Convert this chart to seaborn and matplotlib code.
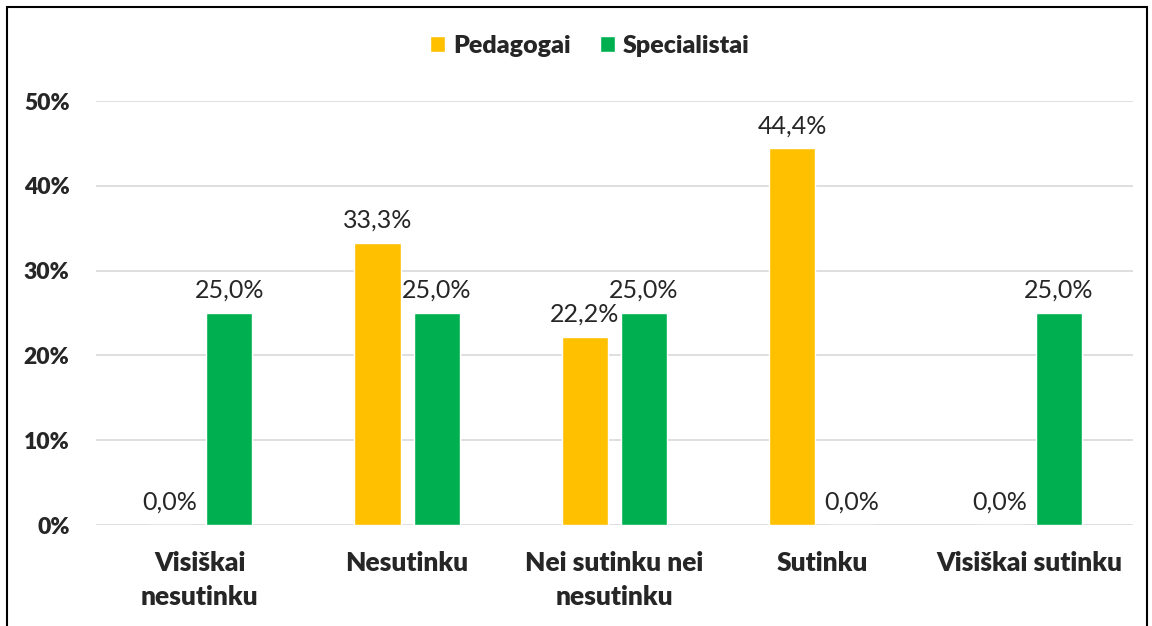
import pandas as pd
import seaborn as sns
from matplotlib import pyplot as plt
from matplotlib.patches import Rectangle

# atsakymu kategorijos ir procentai
kategorijos = ['Visiškai\nnesutinku', 'Nesutinku', 'Nei sutinku nei\nnesutinku', 'Sutinku', 'Visiškai sutinku']
pedagogai = [0.0, 33.3, 22.2, 44.4, 0.0]
specialistai = [25.0, 25.0, 25.0, 0.0, 25.0]
grupes = ['Pedagogai', 'Specialistai']
spalvos = ['#FFC000', '#00B050']

df = pd.DataFrame({
    'kategorija': kategorijos * 2,
    'grupe': [grupes[0]] * len(kategorijos) + [grupes[1]] * len(kategorijos),
    'proc': pedagogai + specialistai,
})

sns.set_style('white')
plt.rcParams['font.family'] = ['Lato', 'DejaVu Sans']

fig = plt.figure(figsize=(11.52, 6.26), dpi=100)
ax = fig.add_axes([96 / 1152, 1 - 525 / 626, (1133 - 96) / 1152, (525 - 101) / 626])

sns.barplot(data=df, x='kategorija', y='proc', hue='grupe', palette=spalvos,
            saturation=1, width=0.57, gap=0.22, ax=ax, legend=True)

ax.set_ylim(0, 50)
ax.set_xlim(-0.5, len(kategorijos) - 0.5)
ax.set_yticks(range(0, 51, 10))
ax.set_yticklabels([f'{t}%' for t in range(0, 51, 10)], fontsize=16.5, fontweight='heavy')
ax.set_xticks(range(len(kategorijos)))
ax.set_xticklabels(kategorijos, fontsize=19, fontweight='heavy', linespacing=1.5)
ax.tick_params(axis='y', length=0, pad=19)
ax.tick_params(axis='x', length=0, pad=19)
ax.set_xlabel('')
ax.set_ylabel('')
ax.yaxis.grid(True, color='#D9D9D9', linewidth=1.2)
ax.set_axisbelow(True)
for s in ax.spines.values():
    s.set_visible(False)

for cont in ax.containers:
    for bar in cont:
        v = bar.get_height()
        ax.annotate(f'{v:.1f}'.replace('.', ',') + '%',
                    (bar.get_x() + bar.get_width() / 2, v),
                    xytext=(0, 8), textcoords='offset points',
                    ha='center', va='bottom', fontsize=18)

leg = ax.legend(loc='center', bbox_to_anchor=(590 / 1152, 1 - 46 / 626),
                bbox_transform=fig.transFigure,
                ncol=2, frameon=False, handlelength=0.6, handleheight=0.6,
                handletextpad=0.3, columnspacing=1.2, prop={'weight': 'heavy', 'size': 18})

# remelis aplink grafika
fig.patches.append(Rectangle((7 / 1152, -0.1), (1147 - 7) / 1152, 1.1 - 7 / 626,
                             transform=fig.transFigure, fill=False,
                             edgecolor='black', linewidth=1.5, clip_on=False))

fig.savefig('out.png', dpi=100)
plt.close()
